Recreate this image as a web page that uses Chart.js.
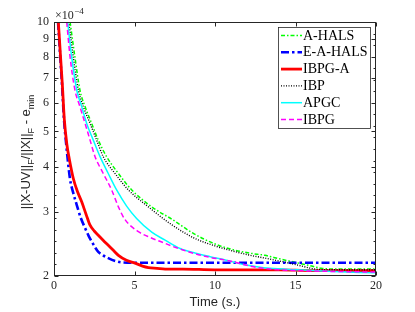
<!DOCTYPE html>
<html>
<head>
<meta charset="utf-8">
<script src="https://cdn.jsdelivr.net/npm/chart.js@4"></script>
<style>
  body { margin: 0; background: #fff; }
  canvas { display: block; }
</style>
</head>
<body>
<canvas id="chart" width="415" height="312"></canvas>
<script>
// values are in units of 1e-4 (see the x10^-4 note on the axis)
const tAHALS = [1.0, 1.3, 1.61, 1.93, 2.34, 2.75, 3.27, 4.0, 4.83, 6.07, 7.41, 8.65, 10.0, 11.0, 12.2, 13.1, 14.0, 15.2, 16.0, 16.6, 17.5, 18.5, 20];
const vAHALS = [10, 8.0, 6.5, 5.85, 5.26, 4.73, 4.26, 3.83, 3.45, 3.1, 2.85, 2.62, 2.45, 2.37, 2.31, 2.28, 2.23, 2.17, 2.13, 2.1, 2.09, 2.09, 2.09];

const tEAHALS = [0.25, 0.38, 0.5, 0.62, 0.76, 0.99, 1.2, 1.41, 1.65, 1.93, 2.15, 2.34, 2.55, 2.75, 3.05, 3.37, 3.8, 4.2, 5, 6, 8, 10, 12, 14, 16, 18, 20];
const vEAHALS = [10, 8.1, 6.7, 5.4, 4.6, 3.71, 3.38, 3.14, 2.9, 2.71, 2.58, 2.49, 2.4, 2.33, 2.28, 2.24, 2.2, 2.18, 2.175, 2.175, 2.175, 2.175, 2.175, 2.175, 2.175, 2.175, 2.175];

const tIBPGA = [0.27, 0.4, 0.52, 0.64, 0.8, 0.95, 1.2, 1.45, 1.72, 2.0, 2.24, 2.5, 2.75, 3.05, 3.37, 3.7, 4.0, 4.5, 5.03, 5.5, 5.86, 6.4, 6.9, 8, 10, 12, 14, 16, 18, 20];
const vIBPGA = [10, 8.1, 6.7, 5.4, 4.6, 4.2, 3.71, 3.42, 3.2, 2.95, 2.76, 2.66, 2.59, 2.51, 2.43, 2.35, 2.28, 2.21, 2.17, 2.13, 2.11, 2.1, 2.09, 2.09, 2.08, 2.08, 2.08, 2.07, 2.07, 2.07];

const tIBP = [0.92, 1.2, 1.51, 1.82, 2.24, 2.65, 3.06, 3.79, 4.62, 5.86, 7.2, 8.65, 10, 11, 12.2, 13.1, 14.2, 15.2, 16.2, 17, 18.5, 20];
const vIBP = [10, 8.0, 6.5, 5.85, 5.26, 4.73, 4.26, 3.83, 3.45, 3.1, 2.79, 2.55, 2.42, 2.35, 2.28, 2.24, 2.19, 2.14, 2.09, 2.08, 2.08, 2.08];

const tAPGC = [0.85, 1.1, 1.41, 1.72, 2.03, 2.44, 2.86, 3.37, 3.89, 4.5, 5.13, 6.07, 6.9, 7.83, 8.8, 9.7, 10.7, 11.76, 12.6, 13.4, 15.1, 17, 20];
const vAPGC = [10, 8.0, 6.5, 5.85, 5.26, 4.73, 4.26, 3.83, 3.45, 3.12, 2.88, 2.64, 2.51, 2.38, 2.31, 2.26, 2.21, 2.15, 2.12, 2.1, 2.08, 2.06, 2.04];

const tIBPG = [0.79, 1.0, 1.3, 1.61, 1.93, 2.24, 2.55, 3.06, 3.58, 4.0, 4.41, 5.24, 6.0, 6.9, 7.4, 8.65, 9.7, 10.7, 12.4, 13.4, 15.1, 17, 20];
const vIBPG = [10, 8.0, 6.5, 5.85, 5.26, 4.73, 4.26, 3.83, 3.45, 3.1, 2.86, 2.65, 2.55, 2.46, 2.41, 2.31, 2.25, 2.21, 2.12, 2.09, 2.07, 2.06, 2.05];

const xTicks = [0, 5, 10, 15, 20];
const yTicks = [2, 3, 4, 5, 6, 7, 8, 9, 10];

const AXIS = '#262626';
const SERIF = '"Liberation Serif", "DejaVu Serif", serif';
const SANS = '"Liberation Sans", Arial, sans-serif';

function pts(ts, vs) {
  return ts.map((t, i) => ({ x: t, y: vs[i] }));
}

function series(label, ts, vs, color, width, dash, order) {
  return {
    label: label,
    data: pts(ts, vs),
    borderColor: color,
    backgroundColor: color,
    borderWidth: width,
    borderDash: dash,
    pointRadius: 0,
    fill: false,
    cubicInterpolationMode: 'monotone',
    order: order
  };
}

// box, inward ticks, y title with subscripts, exponent note, legend
const decorPlugin = {
  id: 'decor',
  afterDraw(chart) {
    const ctx = chart.ctx;
    const a = chart.chartArea;
    const xs = chart.scales.x, ys = chart.scales.y;
    ctx.save();
    ctx.strokeStyle = AXIS;
    ctx.lineWidth = 1;
    const L = Math.round(a.left) + 0.5, R = Math.round(a.right) - 0.5;
    const T = Math.round(a.top) + 0.5, B = Math.round(a.bottom) - 0.5;
    ctx.strokeRect(L, T, R - L, B - T);

    ctx.beginPath();
    xTicks.forEach(v => {
      const px = Math.round(xs.getPixelForValue(v)) + 0.5;
      ctx.moveTo(px, B); ctx.lineTo(px, B - 4);
      ctx.moveTo(px, T); ctx.lineTo(px, T + 4);
    });
    yTicks.forEach(v => {
      const py = Math.round(ys.getPixelForValue(v)) + 0.5;
      ctx.moveTo(L, py); ctx.lineTo(L + 4, py);
      ctx.moveTo(R, py); ctx.lineTo(R - 4, py);
    });
    // minor ticks on the log axis
    for (let k = 1; k < 22; k++) {
      const v = 2 * Math.pow(5, k / 22);
      const py = Math.round(ys.getPixelForValue(v)) + 0.5;
      ctx.moveTo(L, py); ctx.lineTo(L + 2, py);
      ctx.moveTo(R, py); ctx.lineTo(R - 2, py);
    }
    ctx.stroke();

    // exponent note
    ctx.fillStyle = AXIS;
    ctx.textBaseline = 'alphabetic';
    ctx.textAlign = 'left';
    ctx.font = '12px ' + SERIF;
    ctx.fillText('\u00d710', 55, 19);
    const w10 = ctx.measureText('\u00d710').width;
    ctx.font = '9px ' + SERIF;
    ctx.fillText('\u22124', 55 + w10 + 0.5, 14);

    // y title
    const parts = [
      ['||X-UV||', false], ['F', true], ['/||X||', false], ['F', true],
      [' - e', false], ['min', true]
    ];
    const fMain = '13px ' + SANS, fSub = '9px ' + SANS;
    let total = 0;
    parts.forEach(p => { ctx.font = p[1] ? fSub : fMain; total += ctx.measureText(p[0]).width; });
    ctx.translate(30, 152);
    ctx.rotate(-Math.PI / 2);
    let cx = -total / 2;
    parts.forEach(p => {
      ctx.font = p[1] ? fSub : fMain;
      ctx.fillText(p[0], cx, p[1] ? 3.5 : 0);
      cx += ctx.measureText(p[0]).width;
    });
    ctx.setTransform(1, 0, 0, 1, 0, 0);

    // legend
    const bx = 278.5, by = 27.5, bw = 92, bh = 101;
    ctx.fillStyle = '#fff';
    ctx.fillRect(bx, by, bw, bh);
    ctx.strokeStyle = AXIS;
    ctx.lineWidth = 0.8;
    ctx.strokeRect(bx, by, bw, bh);
    ctx.font = '14px ' + SERIF;
    ctx.textBaseline = 'middle';
    const legendOrder = ['A-HALS', 'E-A-HALS', 'IBPG-A', 'IBP', 'APGC', 'IBPG'];
    legendOrder.forEach((name, i) => {
      const ds = chart.data.datasets.find(d => d.label === name);
      const y = 35.5 + i * 16.8;
      ctx.strokeStyle = ds.borderColor;
      ctx.lineWidth = ds.borderWidth;
      ctx.setLineDash(ds.borderDash || []);
      ctx.beginPath();
      ctx.moveTo(281, y); ctx.lineTo(302, y);
      ctx.stroke();
      ctx.setLineDash([]);
      ctx.fillStyle = '#000';
      ctx.fillText(name, 303, y + 0.5);
    });
    ctx.restore();
  }
};

new Chart(document.getElementById('chart'), {
  type: 'line',
  data: {
    datasets: [
      series('A-HALS', tAHALS, vAHALS, '#00ff00', 1.5, [4, 2, 1.5, 2], 6),
      series('E-A-HALS', tEAHALS, vEAHALS, '#0000ff', 2.6, [8, 3, 2.5, 3], 5),
      series('IBPG-A', tIBPGA, vIBPGA, '#ff0000', 2.8, [], 4),
      series('IBP', tIBP, vIBP, '#000000', 1.4, [1, 1.5], 3),
      series('APGC', tAPGC, vAPGC, '#00ffff', 1.5, [], 2),
      series('IBPG', tIBPG, vIBPG, '#ff00ff', 1.5, [5, 3], 1)
    ]
  },
  options: {
    responsive: false,
    animation: false,
    devicePixelRatio: 1,
    layout: { padding: { left: 0, right: 39, top: 22, bottom: 0 } },
    plugins: { legend: { display: false }, tooltip: { enabled: false } },
    scales: {
      x: {
        type: 'linear',
        min: 0,
        max: 20,
        grid: { display: false, drawTicks: false },
        border: { display: false },
        afterBuildTicks: s => { s.ticks = xTicks.map(v => ({ value: v })); },
        afterFit: s => { s.height = 36; },
        ticks: {
          autoSkip: false,
          maxRotation: 0,
          padding: 3,
          color: AXIS,
          font: { family: SERIF, size: 12 },
          callback: v => String(v)
        },
        title: {
          display: true,
          text: 'Time (s.)',
          color: AXIS,
          font: { family: SANS, size: 13 },
          padding: { top: 0, bottom: 2 }
        }
      },
      y: {
        type: 'logarithmic',
        min: 2,
        max: 10,
        grid: { display: false, drawTicks: false },
        border: { display: false },
        afterBuildTicks: s => { s.ticks = yTicks.map(v => ({ value: v })); },
        afterFit: s => { s.width = 54; },
        ticks: {
          autoSkip: false,
          padding: 5,
          color: AXIS,
          font: { family: SERIF, size: 12 },
          callback: v => String(v)
        }
      }
    }
  },
  plugins: [decorPlugin]
});
</script>
</body>
</html>
